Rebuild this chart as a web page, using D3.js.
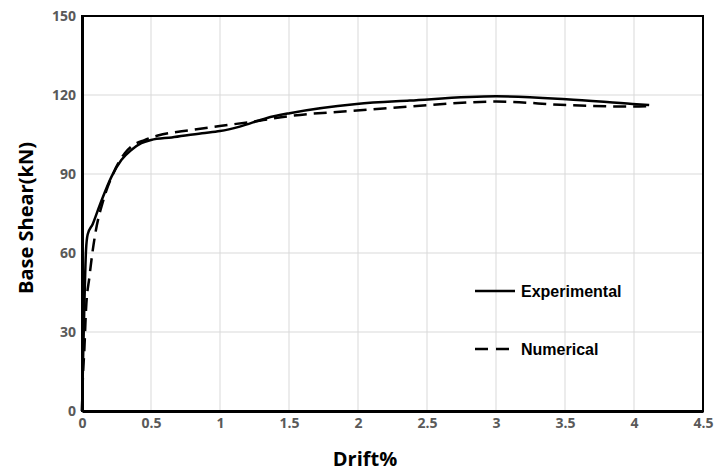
<!DOCTYPE html>
<html>
<head>
<meta charset="utf-8">
<script src="https://cdn.jsdelivr.net/npm/d3@7"></script>
<style>
    body { margin: 0; background: #fff; }
</style>
</head>
<body>
<div id="chart"></div>
<script>
// values
const expDrift = [0, 0.008, 0.018, 0.029, 0.041, 0.078, 0.11, 0.143, 0.214, 0.285, 0.357, 0.43, 0.5, 0.65, 0.87, 1.0, 1.143, 1.336, 1.505, 1.99, 2.375, 3.0, 3.51, 3.99, 4.11];
const expShear = [0, 20, 42, 61, 67, 71, 75.5, 80.1, 89, 95.3, 99.1, 101.7, 102.9, 103.9, 105.5, 106.3, 108, 111.2, 113.1, 116.6, 117.9, 119.5, 118.4, 116.6, 116.2];

const numDrift = [0, 0.005, 0.017, 0.029, 0.054, 0.078, 0.101, 0.155, 0.227, 0.31, 0.357, 0.453, 0.55, 0.79, 0.998, 1.24, 1.505, 1.99, 2.375, 3.0, 3.51, 3.99, 4.11];
const numShear = [0, 10.6, 23.2, 38.4, 51, 61.1, 68.7, 80.1, 90.3, 97.9, 100.4, 102.9, 104.6, 106.7, 108.2, 109.9, 112, 114.1, 115.6, 117.5, 116.2, 115.6, 115.8];

const xTicks = [0, 0.5, 1, 1.5, 2, 2.5, 3, 3.5, 4, 4.5];
const yTicks = [0, 30, 60, 90, 120, 150];

const seriesNames = ['Experimental', 'Numerical'];

const width = 714;
const height = 472;

const svg = d3.select('#chart')
    .append('svg')
    .attr('width', width)
    .attr('height', height)
    .style('background', '#fff');

const x = d3.scaleLinear().domain([0, 4.5]).range([82, 703]);
const y = d3.scaleLinear().domain([0, 150]).range([411, 16]);

// grid
svg.append('g')
    .selectAll('line')
    .data(xTicks.slice(1, -1))
    .enter()
    .append('line')
    .attr('x1', d => x(d)).attr('x2', d => x(d))
    .attr('y1', y(0)).attr('y2', y(150))
    .attr('stroke', '#d9d9d9')
    .attr('stroke-width', 1);

svg.append('g')
    .selectAll('line')
    .data(yTicks.slice(1, -1))
    .enter()
    .append('line')
    .attr('x1', x(0)).attr('x2', x(4.5))
    .attr('y1', d => y(d)).attr('y2', d => y(d))
    .attr('stroke', '#d9d9d9')
    .attr('stroke-width', 1);

// frame
svg.append('rect')
    .attr('x', x(0)).attr('y', y(150))
    .attr('width', x(4.5) - x(0))
    .attr('height', y(0) - y(150))
    .attr('fill', 'none')
    .attr('stroke', '#000')
    .attr('stroke-width', 2);

// axes (labels only, thick left/bottom lines)
const xAxis = svg.append('g')
    .attr('transform', `translate(0,${y(0)})`)
    .call(d3.axisBottom(x).tickValues(xTicks).tickSize(0).tickPadding(7).tickFormat(d3.format('')));
const yAxis = svg.append('g')
    .attr('transform', `translate(${x(0)},0)`)
    .call(d3.axisLeft(y).tickValues(yTicks).tickSize(0).tickPadding(6));

[xAxis, yAxis].forEach(g => {
    g.select('.domain').attr('stroke', '#000').attr('stroke-width', 3);
    g.selectAll('text')
        .attr('fill', '#595959')
        .style('font-family', '"Open Sans", sans-serif')
        .style('font-weight', 'bold')
        .style('font-size', '14px');
});

// curves
const line = d3.line()
    .x(d => x(d[0]))
    .y(d => y(d[1]))
    .curve(d3.curveMonotoneX);

svg.append('path')
    .datum(d3.zip(expDrift, expShear))
    .attr('d', line)
    .attr('fill', 'none')
    .attr('stroke', '#000')
    .attr('stroke-width', 2.5);

svg.append('path')
    .datum(d3.zip(numDrift, numShear))
    .attr('d', line)
    .attr('fill', 'none')
    .attr('stroke', '#000')
    .attr('stroke-width', 2.5)
    .attr('stroke-dasharray', '13,7');

// legend
const legend = svg.append('g');
seriesNames.forEach((name, i) => {
    const ly = 291 + i * 58;
    legend.append('line')
        .attr('x1', 475).attr('x2', 515)
        .attr('y1', ly).attr('y2', ly)
        .attr('stroke', '#000')
        .attr('stroke-width', 2.5)
        .attr('stroke-dasharray', i === 1 ? '13,8' : null);
    legend.append('text')
        .attr('x', 521)
        .attr('y', ly + 6)
        .style('font-family', '"Liberation Sans", Arial, sans-serif')
        .style('font-weight', 'bold')
        .style('font-size', '16px')
        .text(name);
});

// axis titles
svg.append('text')
    .attr('x', 365)
    .attr('y', 466)
    .attr('text-anchor', 'middle')
    .style('font-family', '"Open Sans", sans-serif')
    .style('font-weight', 'bold')
    .style('font-size', '20px')
    .text('Drift%');

svg.append('text')
    .attr('transform', 'translate(33,218) rotate(-90)')
    .attr('text-anchor', 'middle')
    .style('font-family', '"Open Sans", sans-serif')
    .style('font-weight', 'bold')
    .style('font-size', '20px')
    .text('Base Shear(kN)');
</script>
</body>
</html>
